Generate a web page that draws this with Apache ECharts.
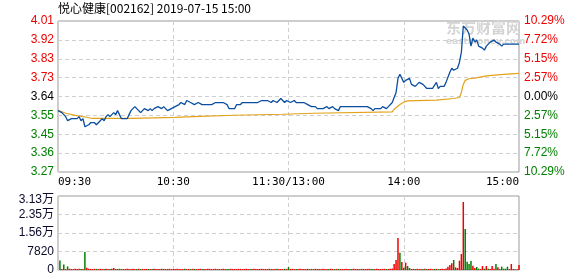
<!DOCTYPE html>
<html><head><meta charset="utf-8">
<script src="https://cdn.jsdelivr.net/npm/echarts@6/dist/echarts.min.js"></script>
<style>html,body{margin:0;padding:0;background:#fff}#c{width:578px;height:276px}</style>
</head><body><div id="c"></div>
<script>
const chartTitle = '悦心健康[002162] 2019-07-15 15:00';
const prevClose = 3.64;
const limitPct = 10.29;
const timeLabels = ['09:30', '10:30', '11:30/13:00', '14:00', '15:00'];
const priceTicks = ['3.27', '3.36', '3.45', '3.55', '3.64', '3.73', '3.83', '3.92', '4.01'];
const pctTicks = ['10.29%', '7.72%', '5.15%', '2.57%', '0.00%', '2.57%', '5.15%', '7.72%', '10.29%'];
const volMax = 31280;
const volStep = 7820;

// [minute index, price]
const priceLine = [
[0,3.57],[2,3.56],[4,3.54],[5,3.52],[7,3.53],[10,3.53],[11,3.54],[12,3.52],[13,3.53],[14,3.49],
[16,3.50],[17,3.51],[19,3.51],[20,3.50],[22,3.52],[23,3.53],[24,3.52],[25,3.54],[26,3.55],[27,3.54],
[29,3.56],[30,3.55],[31,3.57],[32,3.55],[33,3.53],[36,3.53],[37,3.55],[38,3.57],[40,3.59],[41,3.58],
[43,3.56],[44,3.57],[45,3.58],[47,3.57],[48,3.58],[49,3.57],[50,3.58],[52,3.59],[54,3.58],[55,3.59],
[57,3.57],[59,3.58],[61,3.59],[63,3.60],[64,3.61],[66,3.60],[67,3.62],[69,3.61],[70,3.61],[71,3.60],
[73,3.61],[75,3.60],[80,3.60],[82,3.61],[86,3.61],[88,3.60],[89,3.58],[92,3.58],[93,3.60],[95,3.60],
[96,3.61],[104,3.61],[106,3.62],[109,3.62],[111,3.61],[112,3.62],[114,3.61],[116,3.63],[118,3.61],[119,3.62],
[121,3.61],[123,3.62],[124,3.61],[128,3.61],[130,3.60],[132,3.59],[134,3.59],[135,3.58],[138,3.58],[140,3.59],
[141,3.58],[143,3.59],[144,3.58],[146,3.57],[147,3.59],[161,3.59],[163,3.58],[164,3.57],[165,3.58],[168,3.58],
[169,3.59],[171,3.58],[172,3.59],[173,3.59],[174,3.61],[176,3.66],[177,3.73],[178,3.75],[179,3.75],[180,3.71],
[181,3.72],[182,3.72],[183,3.73],[184,3.70],[186,3.69],[188,3.71],[190,3.70],[192,3.68],[195,3.68],[197,3.71],
[198,3.68],[199,3.69],[201,3.69],[202,3.71],[204,3.76],[205,3.78],[206,3.77],[207,3.77],[208,3.78],[209,3.81],
[210,3.86],[211,3.99],[212,3.98],[213,3.97],[214,3.95],[215,3.89],[216,3.93],[217,3.91],[218,3.92],[219,3.89],
[221,3.88],[222,3.87],[223,3.89],[224,3.90],[225,3.91],[227,3.92],[228,3.91],[230,3.90],[231,3.89],[232,3.90],
[240,3.90]
];

// [minute index, average price]
const avgLine = [
[0,3.572],[4,3.557],[9,3.546],[15,3.537],[18,3.531],[38,3.531],[39,3.536],[61,3.536],[62,3.541],[74,3.541],
[75,3.547],[92,3.547],[93,3.552],[117,3.552],[118,3.557],[133,3.557],[134,3.564],[174,3.564],[175,3.577],[178,3.600],
[180,3.612],[182,3.618],[197,3.622],[206,3.630],[209,3.635],[210,3.660],[211,3.700],[212,3.720],[214,3.728],[217,3.731],
[223,3.742],[232,3.750],[240,3.755]
];

// volume per minute (241 minutes)
const volume = [
0,4000,460,2300,380,1500,520,430,390,560,470,510,420,440,7600,900,530,460,380,510,
470,390,520,440,410,560,430,380,490,850,460,410,520,440,380,470,510,420,440,530,
390,460,510,380,470,420,500,440,390,460,520,410,450,380,530,460,420,440,510,390,
470,410,520,450,380,440,510,390,460,420,500,470,390,450,530,410,440,380,500,460,
390,450,520,410,440,380,500,470,400,460,520,390,450,410,500,470,380,440,520,400,
460,410,510,440,380,450,520,400,440,390,510,460,380,450,500,410,470,390,520,450,
1200,460,510,380,450,420,500,460,390,440,510,400,460,380,520,450,410,440,500,390,
470,410,520,440,390,460,500,410,450,380,510,440,390,470,500,410,460,380,520,450,
400,460,510,390,440,420,510,450,390,460,500,410,450,520,600,2540,4230,13530,7330,3380,
990,3100,1690,850,420,460,390,510,440,380,470,500,410,440,520,390,460,500,380,450,
500,450,600,1400,2110,2820,4230,1130,850,3950,6760,28740,17330,3520,2540,3800,1830,850,1270,550,
400,1690,550,1690,550,400,1690,550,2540,1130,400,1410,550,550,1410,420,2540,420,300,300,
2110
];

// minutes whose volume bar is green (price down)
const downMinutes = [1,3,5,12,14,20,24,27,30,32,33,41,43,47,49,54,57,66,69,71,75,84,88,89,100,111,114,118,120,
124,130,132,135,141,144,146,152,158,163,164,171,178,180,182,183,186,190,192,196,198,206,212,213,214,215,
218,219,222,224,228,230,231,232,233,234,238];

const step = prevClose * limitPct / 100 / 4;
const toUnit = p => (p - prevClose) / step;
const downSet = new Set(downMinutes);
const RED = '#f00000', GREEN = '#008000';
const tickColor = v => { const r = Math.round(v); return r > 0 ? RED : (r < 0 ? GREEN : '#000'); };
const dashed = { show: true, lineStyle: { color: '#cfcfcf', type: [4, 3], width: 1 } };
const numFont = 'Liberation Sans, Arial, Noto Sans CJK SC, sans-serif';

const chart = echarts.init(document.getElementById('c'), null, { renderer: 'canvas' });
chart.setOption({
  animation: false,
  backgroundColor: '#fff',
  title: {
    text: chartTitle, left: 58, top: 2, padding: 0,
    textStyle: { fontSize: 12, fontWeight: 'normal', color: '#000', fontFamily: 'Noto Sans CJK SC, sans-serif' }
  },
  graphic: [
    { type: 'text', left: 446, top: 20, z: 0, silent: true,
      style: { text: '东方财富网', fill: '#d4d4d4', font: 'bold 15px "Noto Sans CJK SC"' } },
    { type: 'text', left: 446, top: 37, z: 0, silent: true,
      style: { text: 'eastmoney.com', fill: '#d4d4d4', font: 'bold 9px "DejaVu Sans"' } }
  ],
  grid: [
    { left: 58, top: 21, width: 461, height: 151, show: true, borderColor: '#999', borderWidth: 1 },
    { left: 58, top: 196, width: 461, height: 74, show: true, borderColor: '#999', borderWidth: 1 }
  ],
  xAxis: [
    { type: 'value', gridIndex: 0, min: 0, max: 240, interval: 60,
      axisLine: { show: false }, axisTick: { show: false }, splitLine: dashed,
      axisLabel: { show: true, margin: 5, color: '#000', fontSize: 11, fontFamily: 'DejaVu Sans Mono, monospace',
        alignMinLabel: 'left', alignMaxLabel: 'right',
        formatter: v => timeLabels[Math.round(v / 60)] } },
    { type: 'value', gridIndex: 1, min: 0, max: 240, interval: 60,
      axisLine: { show: false }, axisTick: { show: false }, splitLine: dashed, axisLabel: { show: false } }
  ],
  yAxis: [
    { type: 'value', gridIndex: 0, min: -4, max: 4, interval: 1, position: 'left',
      axisLine: { show: false }, axisTick: { show: false }, splitLine: dashed,
      axisLabel: { margin: 4, fontSize: 12, fontFamily: numFont, color: tickColor,
        formatter: v => priceTicks[Math.round(v) + 4] } },
    { type: 'value', gridIndex: 0, min: -4, max: 4, interval: 1, position: 'right',
      axisLine: { show: false }, axisTick: { show: false }, splitLine: { show: false },
      axisLabel: { margin: 5, fontSize: 12, fontFamily: numFont, color: tickColor,
        formatter: v => pctTicks[Math.round(v) + 4] } },
    { type: 'value', gridIndex: 1, min: 0, max: volMax, interval: volStep, position: 'left',
      axisLine: { show: false }, axisTick: { show: false }, splitLine: dashed,
      axisLabel: { margin: 4, fontSize: 12, fontFamily: numFont, color: '#0a0a2a',
        formatter: v => {
          const s = v >= 10000 ? (v / 10000).toFixed(2) + '万' : String(Math.round(v));
          return v >= volMax ? '{t|' + s + '}' : s;
        },
        rich: { t: { padding: [7, 0, 0, 0], fontSize: 12, fontFamily: numFont, color: '#0a0a2a' } } } }
  ],
  series: [
    { type: 'line', xAxisIndex: 0, yAxisIndex: 0, z: 3, showSymbol: false, symbol: 'none',
      data: avgLine.map(([m, p]) => [m, toUnit(p)]),
      lineStyle: { color: '#e3a21a', width: 1.2 } },
    { type: 'line', xAxisIndex: 0, yAxisIndex: 0, z: 4, showSymbol: false, symbol: 'none',
      data: priceLine.map(([m, p]) => [m, toUnit(p)]),
      lineStyle: { color: '#0b4e9f', width: 1.3 } },
    { type: 'bar', xAxisIndex: 1, yAxisIndex: 2, barWidth: 1.5,
      data: volume.map((v, i) => ({ value: [i, v], itemStyle: { color: downSet.has(i) ? GREEN : RED } })) }
  ]
});
</script></body></html>
